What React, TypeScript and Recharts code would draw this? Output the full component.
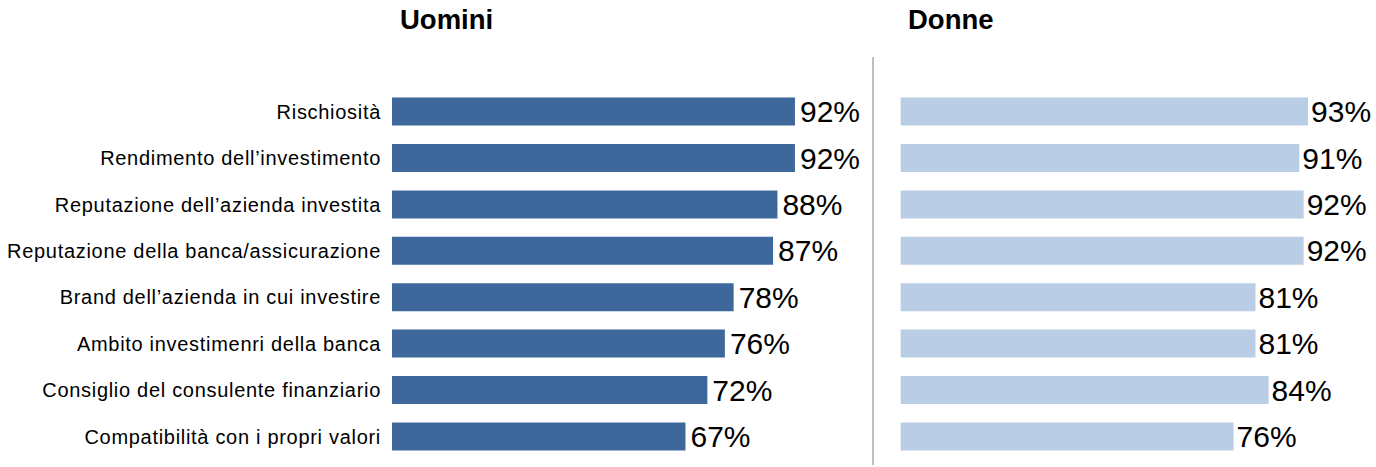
import { BarChart, Bar, XAxis, YAxis, LabelList } from 'recharts';

const categories = [
  'Rischiosità',
  'Rendimento dell’investimento',
  'Reputazione dell’azienda investita',
  'Reputazione della banca/assicurazione',
  'Brand dell’azienda in cui investire',
  'Ambito investimenri della banca',
  'Consiglio del consulente finanziario',
  'Compatibilità con i propri valori',
];
const uomini = [92, 92, 88, 87, 78, 76, 72, 67];
const donne = [93, 91, 92, 92, 81, 81, 84, 76];

const FONT = '"Liberation Sans", Arial, sans-serif';

const menData = categories.map((c, i) => ({ name: c, value: uomini[i] }));
const womenData = categories.map((c, i) => ({ name: c, value: donne[i] }));

const CatTick = (props: any) => {
  const { x, y, payload } = props;
  return (
    <text x={x} y={y} dy={7} textAnchor="end" fontSize={20} letterSpacing={0.7} fill="#000" fontFamily={FONT}>
      {payload.value}
    </text>
  );
};

const fmt = (v: any) => `${v}%`;

export default function App() {
  return (
    <div style={{ position: 'absolute', left: 0, top: 0, width: 1376, height: 467, background: '#fff', fontFamily: FONT }}>
      <div style={{ position: 'absolute', left: 400, top: 4, fontSize: 27.5, fontWeight: 'bold', color: '#000' }}>Uomini</div>
      <div style={{ position: 'absolute', left: 908, top: 4, fontSize: 27.5, fontWeight: 'bold', color: '#000' }}>Donne</div>
      <div style={{ position: 'absolute', left: 872, top: 57, width: 2, height: 408, background: '#bfbfbf' }} />

      <div style={{ position: 'absolute', left: 0, top: 0 }}>
        <BarChart width={873} height={467} data={menData} layout="vertical"
          margin={{ top: 88.6, right: 43, bottom: 7.2, left: 0 }}>
          <XAxis type="number" domain={[0, 100]} hide />
          <YAxis type="category" dataKey="name" width={392} axisLine={false} tickLine={false}
            tickMargin={5} tick={<CatTick />} interval={0} />
          <Bar dataKey="value" fill="#3e689c" barSize={28} isAnimationActive={false}>
            <LabelList dataKey="value" position="right" offset={5} formatter={fmt}
              style={{ fontSize: 30, fill: '#000', fontFamily: FONT }} />
          </Bar>
        </BarChart>
      </div>

      <div style={{ position: 'absolute', left: 874, top: 0 }}>
        <BarChart width={502} height={467} data={womenData} layout="vertical"
          margin={{ top: 88.6, right: 37.3, bottom: 7.2, left: 26.7 }}>
          <XAxis type="number" domain={[0, 100]} hide />
          <YAxis type="category" dataKey="name" hide />
          <Bar dataKey="value" fill="#b9cde4" barSize={28} isAnimationActive={false}>
            <LabelList dataKey="value" position="right" offset={3} formatter={fmt}
              style={{ fontSize: 30, fill: '#000', fontFamily: FONT }} />
          </Bar>
        </BarChart>
      </div>
    </div>
  );
}
